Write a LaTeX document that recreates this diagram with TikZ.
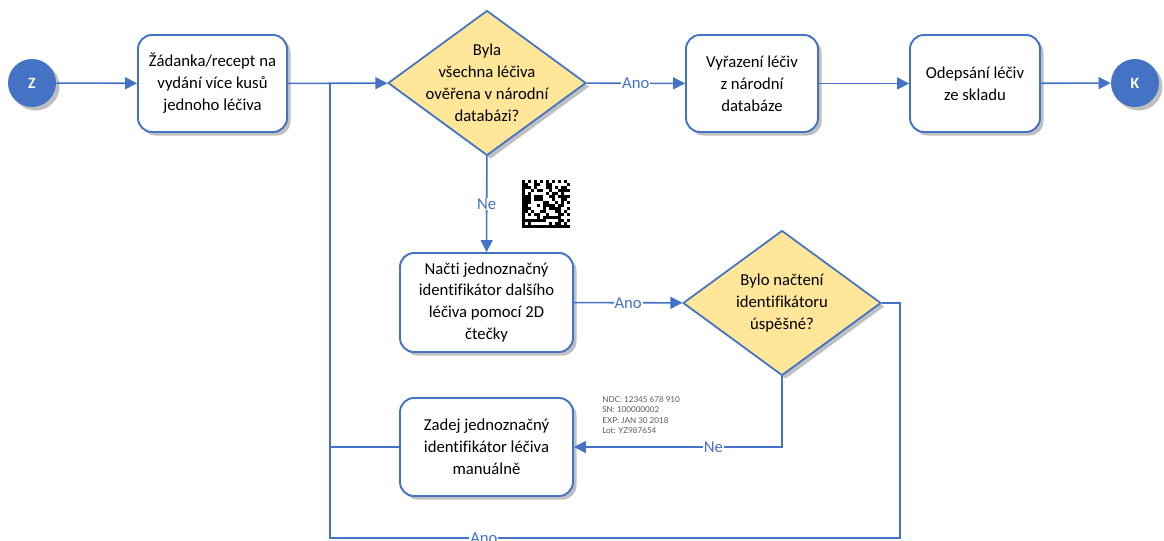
\documentclass[tikz,border=0pt]{standalone}
\usepackage{fontspec}
\setmainfont{Carlito}[Ligatures=NoCommon]
\newfontfamily\tagfont{Lato}
\usetikzlibrary{shapes.geometric, arrows.meta, shadows}
\definecolor{flowblue}{HTML}{4472C4}
\definecolor{flowyellow}{HTML}{FFE699}
\tikzstyle{every node}=[font=\fontsize{9.5}{12.5}\selectfont]
\tikzstyle{shade}=[drop shadow={shadow xshift=2pt, shadow yshift=-2pt, opacity=0.25, fill=black}]
\tikzstyle{stepbox}=[draw=flowblue, line width=1.1pt, fill=white, rounded corners=0.28cm, align=center, shade]
\tikzstyle{decision}=[diamond, draw=flowblue, line width=1pt, fill=flowyellow, align=center, inner sep=-0.6cm, minimum width=3.96cm, minimum height=2.9cm, shade]
\tikzstyle{terminal}=[circle, fill=flowblue, text=white, minimum size=0.96cm, inner sep=0pt, font=\fontsize{9}{11}\selectfont\bfseries, shade]
\tikzstyle{answer}=[fill=white, text=flowblue, inner sep=0.5pt]
\tikzstyle{flow}=[draw=flowblue, line width=0.9pt]
\tikzstyle{tip}=[-{Triangle[length=0.24cm, width=0.24cm]}]

\begin{document}
\begin{tikzpicture}[x=0.02cm, y=-0.02cm]
\useasboundingbox (0,0) rectangle (1164,541);
% Start and end
    \node[terminal] (z) at (32,83) {Z};
    \node[terminal] (k) at (1135,83) {K};
% Steps
    \node[stepbox, minimum width=2.98cm, minimum height=1.94cm] (zadanka) at (212.5,83.5) {Žádanka/recept na\\vydání více kusů\\jednoho léčiva};
    \node[stepbox, minimum width=2.64cm, minimum height=1.94cm] (vyrazeni) at (752,83.5) {Vyřazení léčiv\\z národní\\databáze};
    \node[stepbox, minimum width=2.6cm, minimum height=1.94cm] (odepsani) at (975,83.5) {Odepsání léčiv\\ze skladu};
    \node[stepbox, minimum width=3.46cm, minimum height=1.98cm] (nacti) at (486.5,302.5) {Načti jednoznačný\\identifikátor dalšího\\léčiva pomocí 2D\\čtečky};
    \node[stepbox, minimum width=3.46cm, minimum height=1.96cm] (zadej) at (486.5,447) {Zadej jednoznačný\\identifikátor léčiva\\manuálně};
% Questions
    \node[decision] (overeno) at (487,83) {Byla\\všechna léčiva\\ověřena v národní\\databázi?};
    \node[decision] (uspesne) at (782,303) {Bylo načtení\\identifikátoru\\úspěšné?};
% Loop corners
    \coordinate (merge) at (330,83);
    \coordinate (bottomleft) at (330,538);
    \coordinate (bottomright) at (900,538);
% Connectors
    \draw[flow, tip] (z) -- (zadanka);
    \draw[flow, tip] (zadanka) -- (overeno);
    \draw[flow, tip] (overeno) -- node[answer] {Ano} (vyrazeni);
    \draw[flow, tip] (vyrazeni) -- (odepsani);
    \draw[flow, tip] (odepsani) -- (k);
    \draw[flow, tip] (overeno) -- node[answer] {Ne} (nacti);
    \draw[flow, tip] (nacti) -- node[answer] {Ano} (uspesne);
    \draw[flow, tip] (uspesne.south) |- node[answer, pos=0.665] {Ne} (zadej.east);
    \draw[flow] (zadej.west) -- (zadej.west -| merge);
    \draw[flow] (uspesne.east) -| (bottomright) -- node[answer, pos=0.73] {Ano} (bottomleft) -- (merge);
% 2D code
    \pgfmathsetseed{17}
    \fill (522,180) rectangle (525,228);
    \fill (522,225) rectangle (570,228);
    \foreach \i in {0,2,...,14}
        \fill (522+3*\i,180) rectangle ++(3,3);
    \foreach \j in {1,3,...,13}
        \fill (567,180+3*\j) rectangle ++(3,3);
    \foreach \i in {1,...,14}
        \foreach \j in {1,...,14} {
            \pgfmathrandominteger{\bit}{0}{1}
            \ifnum\bit=1 \fill (522+3*\i,180+3*\j) rectangle ++(3,3); \fi
        }
% Printed label
    \node[align=left, text=black!65, font=\tagfont\fontsize{4.6}{6}\selectfont, anchor=north west, inner sep=0pt] (stitek) at (602,396) {NDC: 12345 678 910\\SN: 100000002\\EXP: JAN 30 2018\\Lot: YZ987654};
\end{tikzpicture}
\end{document}
